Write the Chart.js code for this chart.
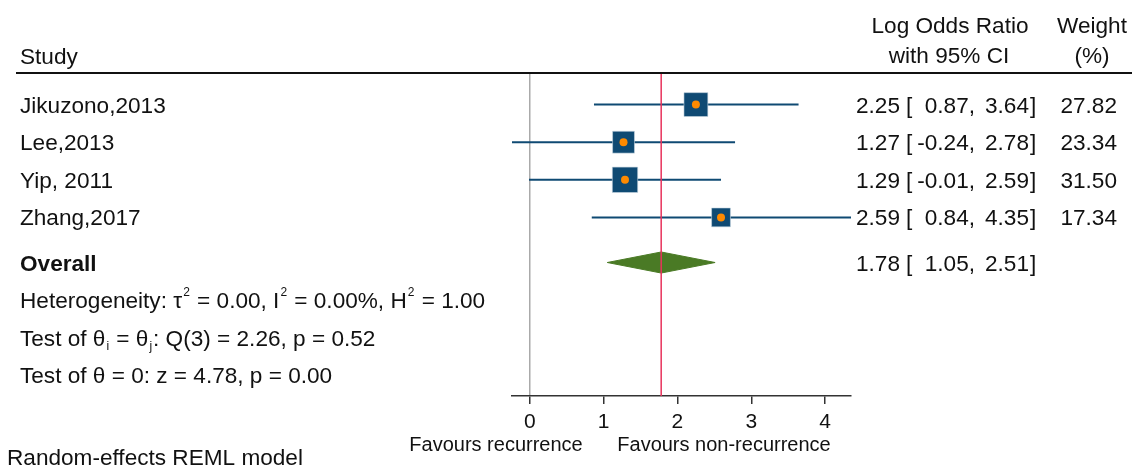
<!DOCTYPE html>
<html>
<head>
<meta charset="utf-8">
<title>Forest plot</title>
<script src="https://cdn.jsdelivr.net/npm/chart.js@4/dist/chart.umd.min.js"></script>
<style>
    html, body { margin: 0; padding: 0; background: #fff; }
    #forest { display: block; }
</style>
</head>
<body>
<canvas id="forest" width="1132" height="466"></canvas>
<script>
// ===== Study data =====
const studies = ['Jikuzono,2013', 'Lee,2013', 'Yip, 2011', 'Zhang,2017'];
const estimates = [2.25, 1.27, 1.29, 2.59];
const lowerCI = [0.87, -0.24, -0.01, 0.84];
const upperCI = [3.64, 2.78, 2.59, 4.35];
const weights = [27.82, 23.34, 31.50, 17.34];

// ===== Overall estimate =====
const overallEst = 1.78;
const overallLow = 1.05;
const overallHigh = 2.51;

// ===== Axis =====
const xTicks = [0, 1, 2, 3, 4];
const xMin = -0.24, xMax = 4.35;

// row positions (y scale units, reversed)
const studyRows = [0, 1, 2, 3];
const overallRow = 4.2;
const statRows = [5.2, 6.2, 7.2];
const yMin = -0.84, yMax = 7.75;

const FONT = '"Liberation Sans", Arial, sans-serif';
const SIZE = '22.6px ';
const NAVY = '#0f4a73';
const ORANGE = '#ff8a00';
const GREEN = '#4a7a25';
const RED = '#e8335c';

// ===== Text helpers =====
function drawRich(ctx, parts, x, y) {
    let cx = x;
    parts.forEach(p => {
        const small = p.s === 'sup' || p.s === 'sub';
        ctx.font = (small ? '12px ' : SIZE) + FONT;
        const dy = p.s === 'sup' ? -12 : (p.s === 'sub' ? 4 : 0);
        ctx.fillText(p.t, cx + (small ? 1 : 0), y + dy);
        cx += ctx.measureText(p.t).width + (small ? 2 : 0);
    });
}

function ciText(ctx, est, lo, hi, y) {
    ctx.font = SIZE + FONT;
    ctx.textAlign = 'right';
    ctx.fillText(est.toFixed(2), 900, y);
    ctx.fillText(lo.toFixed(2) + ',', 975, y);
    ctx.fillText(hi.toFixed(2), 1029, y);
    ctx.textAlign = 'left';
    ctx.fillText('[', 906, y);
    ctx.fillText(']', 1030, y);
}

const textPlugin = {
    id: 'forestText',
    afterDraw(chart) {
        const ctx = chart.ctx;
        const yScale = chart.scales.y;
        ctx.save();
        ctx.fillStyle = '#111';
        ctx.textBaseline = 'alphabetic';

        // header
        ctx.font = SIZE + FONT;
        ctx.textAlign = 'left';
        ctx.fillText('Study', 20, 64);
        ctx.textAlign = 'center';
        ctx.fillText('Log Odds Ratio', 950, 33);
        ctx.fillText('with 95% CI', 949, 63);
        ctx.fillText('Weight', 1092, 33);
        ctx.fillText('(%)', 1092, 63);

        ctx.strokeStyle = '#111';
        ctx.lineWidth = 2;
        ctx.beginPath();
        ctx.moveTo(16, 73);
        ctx.lineTo(1132, 73);
        ctx.stroke();

        // study rows
        studies.forEach((name, i) => {
            const y = yScale.getPixelForValue(studyRows[i]) + 8;
            ctx.font = SIZE + FONT;
            ctx.textAlign = 'left';
            ctx.fillText(name, 20, y);
            ciText(ctx, estimates[i], lowerCI[i], upperCI[i], y);
            ctx.textAlign = 'right';
            ctx.fillText(weights[i].toFixed(2), 1117, y);
        });

        // overall
        const oy = yScale.getPixelForValue(overallRow) + 8;
        ctx.font = 'bold ' + SIZE + FONT;
        ctx.textAlign = 'left';
        ctx.fillText('Overall', 20, oy);
        ciText(ctx, overallEst, overallLow, overallHigh, oy);

        // statistics
        ctx.textAlign = 'left';
        const s = statRows.map(r => yScale.getPixelForValue(r) + 8);
        drawRich(ctx, [
            { t: 'Heterogeneity: \u03c4' }, { t: '2', s: 'sup' },
            { t: ' = 0.00, I' }, { t: '2', s: 'sup' },
            { t: ' = 0.00%, H' }, { t: '2', s: 'sup' },
            { t: ' = 1.00' }
        ], 20, s[0]);
        drawRich(ctx, [
            { t: 'Test of \u03b8' }, { t: 'i', s: 'sub' },
            { t: ' = \u03b8' }, { t: 'j', s: 'sub' },
            { t: ': Q(3) = 2.26, p = 0.52' }
        ], 20, s[1]);
        drawRich(ctx, [{ t: 'Test of \u03b8 = 0: z = 4.78, p = 0.00' }], 20, s[2]);

        // axis titles and note
        ctx.font = '20px ' + FONT;
        ctx.textAlign = 'center';
        ctx.fillText('Favours recurrence', 496, 451);
        ctx.fillText('Favours non-recurrence', 724, 451);
        ctx.font = SIZE + FONT;
        ctx.textAlign = 'left';
        ctx.fillText('Random-effects REML model', 7, 465);
        ctx.restore();
    }
};

// ===== Datasets =====
const ciLines = studies.map((name, i) => ({
    label: name,
    data: [{ x: lowerCI[i], y: studyRows[i] }, { x: upperCI[i], y: studyRows[i] }],
    showLine: true,
    borderColor: NAVY,
    borderWidth: 2,
    pointRadius: 0,
    clip: false,
    order: 3
}));

const datasets = [
    {
        label: 'point',
        data: estimates.map((v, i) => ({ x: v, y: studyRows[i] })),
        pointStyle: 'circle',
        pointRadius: 4,
        backgroundColor: ORANGE,
        borderWidth: 0,
        order: 0
    },
    {
        label: 'weight',
        data: estimates.map((v, i) => ({ x: v, y: studyRows[i] })),
        pointStyle: 'rect',
        pointRadius: weights.map(w => Math.sqrt(w) * 3.2),
        backgroundColor: NAVY,
        borderColor: '#c9d6e0',
        borderWidth: 0.6,
        order: 1
    },
    {
        label: 'overall line',
        data: [{ x: overallEst, y: yMin }, { x: overallEst, y: yMax }],
        showLine: true,
        borderColor: RED,
        borderWidth: 1.5,
        pointRadius: 0,
        order: 2
    },
    ...ciLines,
    {
        label: 'overall',
        data: [
            { x: overallLow, y: overallRow },
            { x: overallEst, y: overallRow - 0.28 },
            { x: overallHigh, y: overallRow },
            { x: overallEst, y: overallRow + 0.28 },
            { x: overallLow, y: overallRow }
        ],
        showLine: true,
        fill: 'shape',
        backgroundColor: GREEN,
        borderColor: GREEN,
        borderWidth: 1,
        pointRadius: 0,
        tension: 0,
        order: 4
    }
];

// ===== Chart =====
new Chart(document.getElementById('forest'), {
    type: 'scatter',
    data: { datasets },
    plugins: [textPlugin],
    options: {
        responsive: false,
        animation: false,
        events: [],
        layout: { padding: { left: 512, right: 281, top: 73, bottom: 0 } },
        plugins: { legend: { display: false }, tooltip: { enabled: false } },
        scales: {
            x: {
                type: 'linear',
                min: xMin,
                max: xMax,
                afterBuildTicks: scale => { scale.ticks = xTicks.map(v => ({ value: v })); },
                afterFit: scale => { scale.height = 70; },
                border: { color: '#333', width: 1.5 },
                grid: {
                    color: c => (c.tick && c.tick.value === 0 ? '#aaa' : 'rgba(0,0,0,0)'),
                    lineWidth: 1.5,
                    tickColor: '#333',
                    tickWidth: 1.5,
                    tickLength: 8
                },
                ticks: {
                    color: '#111',
                    font: { family: FONT, size: 21 },
                    padding: 6,
                    maxRotation: 0
                }
            },
            y: {
                type: 'linear',
                display: false,
                reverse: true,
                min: yMin,
                max: yMax
            }
        }
    }
});
</script>
</body>
</html>
